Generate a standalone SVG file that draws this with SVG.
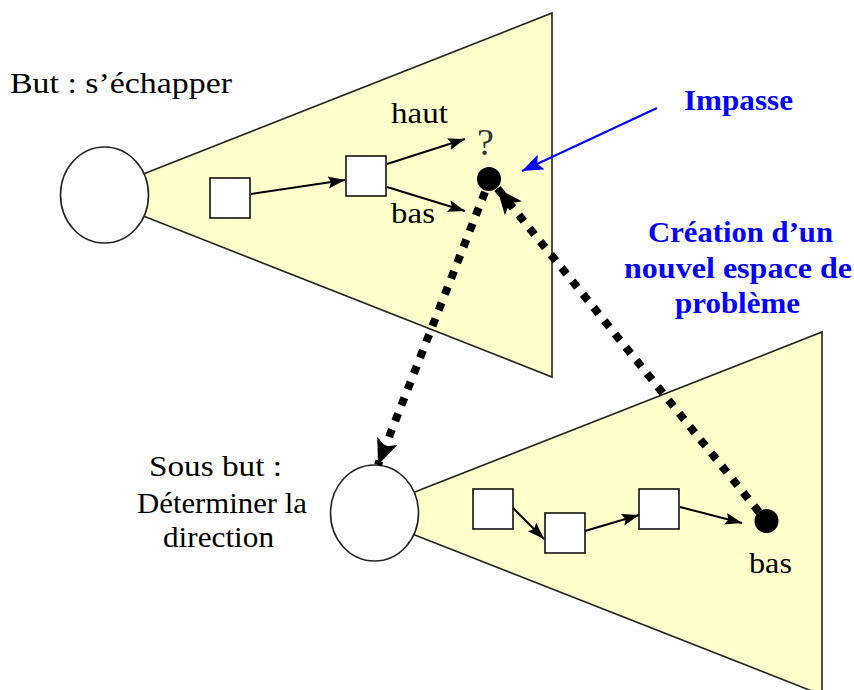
<svg xmlns="http://www.w3.org/2000/svg" width="854" height="690" viewBox="0 0 854 690">
  <style>
    .space { fill: #FFFFCC; stroke: #222; stroke-width: 1.6; stroke-linejoin: miter; }
    .goal { fill: #FFFFFF; stroke: #222; stroke-width: 1.6; }
    .state { fill: #FFFFFF; stroke: #111; stroke-width: 1.6; }
    .dot { fill: #000; }
    .step { fill: none; stroke: #000; stroke-width: 2; marker-end: url(#head); }
    .jump { fill: none; stroke: #000; stroke-width: 8; stroke-dasharray: 8 9; marker-end: url(#bighead); }
    .pointer { fill: none; stroke: #0000FF; stroke-width: 2; marker-end: url(#bluehead); }
    .lbl { font-family: "Liberation Serif", "Times New Roman", serif; font-size: 29px; fill: #000; }
    .mark { font-family: "Liberation Serif", "Times New Roman", serif; font-size: 38px; fill: #333; }
    .note { font-family: "Liberation Serif", "Times New Roman", serif; font-size: 29px; font-weight: bold; fill: #0000FF; }
  </style>
  <defs>
    <marker id="head" markerUnits="userSpaceOnUse" markerWidth="20" markerHeight="14" refX="17" refY="6" orient="auto">
      <path d="M0,0 L17,6 L0,12 L3,6 Z" fill="#000"/>
    </marker>
    <marker id="bighead" markerUnits="userSpaceOnUse" markerWidth="30" markerHeight="24" refX="26" refY="11" orient="auto">
      <path d="M0,0 L26,11 L0,22 L6,11 Z" fill="#000"/>
    </marker>
    <marker id="bluehead" markerUnits="userSpaceOnUse" markerWidth="24" markerHeight="18" refX="21" refY="8" orient="auto">
      <path d="M0,0 L21,8 L0,16 L4,8 Z" fill="#0000FF"/>
    </marker>
  </defs>

  <!-- main goal problem space -->
  <g id="space-main">
    <polygon class="space" points="90,195 552,13 552,377"/>
    <ellipse class="goal" cx="104.5" cy="195" rx="44" ry="48"/>
    <text class="lbl" x="10" y="93" textLength="222" lengthAdjust="spacingAndGlyphs">But : s’échapper</text>
  </g>
  <g id="state-m1"><rect class="state" x="210" y="178" width="40" height="40"/></g>
  <g id="state-m2"><rect class="state" x="346" y="156" width="40" height="40"/></g>
  <g id="impasse-dot"><circle class="dot" cx="489" cy="179" r="12"/></g>
  <g id="unknown"><text class="mark" x="477" y="155">?</text></g>

  <!-- sub-goal problem space -->
  <g id="space-sub">
    <polygon class="space" points="360,513.5 822,332 822,695"/>
    <ellipse class="goal" cx="374.5" cy="513" rx="44" ry="48"/>
    <text class="lbl" x="149" y="476" textLength="133" lengthAdjust="spacingAndGlyphs">Sous but :</text>
    <text class="lbl" x="137" y="513" textLength="170" lengthAdjust="spacingAndGlyphs">Déterminer la</text>
    <text class="lbl" x="163" y="547" textLength="111" lengthAdjust="spacingAndGlyphs">direction</text>
  </g>
  <g id="state-s1"><rect class="state" x="473" y="489" width="40" height="40"/></g>
  <g id="state-s2"><rect class="state" x="545" y="513" width="40" height="40"/></g>
  <g id="state-s3"><rect class="state" x="639" y="489" width="40" height="40"/></g>
  <g id="result-dot">
    <circle class="dot" cx="766.5" cy="521" r="12"/>
    <text class="lbl" x="749" y="573" textLength="43" lengthAdjust="spacingAndGlyphs">bas</text>
  </g>

  <!-- annotations -->
  <g id="note-impasse">
    <text class="note" x="684" y="110" textLength="109" lengthAdjust="spacingAndGlyphs">Impasse</text>
  </g>
  <g id="note-creation">
    <text class="note" x="648" y="242" textLength="185" lengthAdjust="spacingAndGlyphs">Création d’un</text>
    <text class="note" x="624" y="278" textLength="228" lengthAdjust="spacingAndGlyphs">nouvel espace de</text>
    <text class="note" x="675" y="313" textLength="125" lengthAdjust="spacingAndGlyphs">problème</text>
  </g>

  <!-- connectors -->
  <g id="connectors">
    <path class="step" d="M251,194 L345,180"/>
    <path class="step" d="M387,164 L465,139"/>
    <text class="lbl" x="391" y="123" textLength="57" lengthAdjust="spacingAndGlyphs">haut</text>
    <path class="step" d="M387,187 L465,211"/>
    <text class="lbl" x="391" y="223" textLength="44" lengthAdjust="spacingAndGlyphs">bas</text>
    <path class="step" d="M513,508 L544,539"/>
    <path class="step" d="M585,531 L639,515"/>
    <path class="step" d="M680,507 L742,523"/>
    <path class="pointer" d="M657,108 L522,171"/>
    <path class="jump" d="M485,192 L378,465"/>
    <path class="jump" d="M759,512 L497,188"/>
  </g>
</svg>
